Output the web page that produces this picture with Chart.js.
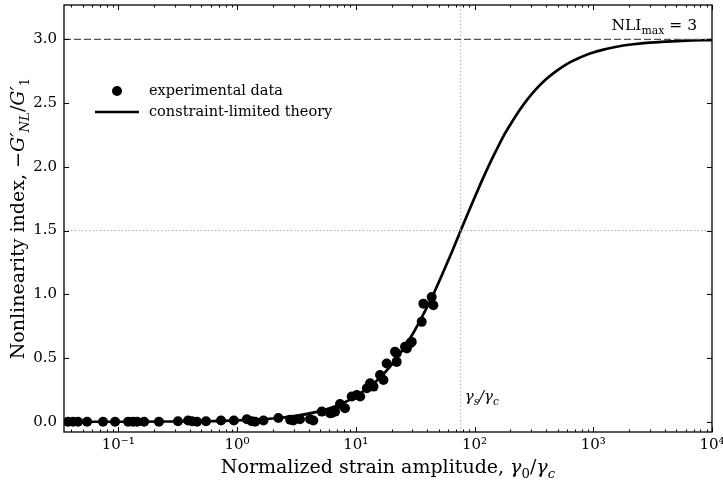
<!DOCTYPE html>
<html>
<head>
<meta charset="utf-8">
<script src="https://cdn.jsdelivr.net/npm/chart.js@4.4.0/dist/chart.umd.min.js"></script>
<style>
  html, body { margin: 0; padding: 0; background: #fff; }
</style>
</head>
<body>
<canvas id="chart" width="723" height="484"></canvas>
<script>
// experimental points (gamma0/gammac, NLI)
const expX = [0.0377, 0.0416, 0.0458, 0.0546, 0.0744, 0.094, 0.121, 0.133, 0.144, 0.165,
  0.220, 0.318, 0.387, 0.418, 0.460, 0.548, 0.733, 0.94, 1.21, 1.33,
  1.42, 1.67, 2.23, 2.80, 2.98, 3.39, 4.12, 4.39, 5.17, 6.07,
  6.28, 6.69, 7.37, 8.11, 9.25, 10.2, 10.9, 12.4, 13.2, 14.1,
  16.0, 17.1, 18.2, 21.4, 22.1, 22.1, 26.0, 26.9, 28.6, 29.6,
  35.9, 37.1, 43.6, 45.0];
const expY = [0.0, 0.0, 0.0, 0.0, 0.0, 0.0, 0.0, 0.0, 0.0, 0.0,
  0.0, 0.005, 0.01, 0.005, 0.0, 0.005, 0.01, 0.01, 0.02, 0.005,
  0.0, 0.01, 0.03, 0.016, 0.01, 0.02, 0.02, 0.01, 0.08, 0.068,
  0.07, 0.08, 0.14, 0.107, 0.198, 0.21, 0.198, 0.263, 0.302, 0.276,
  0.367, 0.328, 0.458, 0.549, 0.47, 0.536, 0.588, 0.575, 0.614, 0.627,
  0.784, 0.927, 0.979, 0.914];

// theory curve
const theoryX = [0.035, 0.1, 0.3, 0.5, 1, 2, 3, 5, 7, 10, 15, 20, 30, 40, 45, 55, 65, 76.5,
  90, 100, 115, 130, 150, 175, 200, 240, 280, 330, 400, 460, 550, 640, 750, 880,
  1000, 1200, 1400, 1700, 2000, 2500, 3000, 4000, 6000, 10000];
const theoryY = [0.0003, 0.0005, 0.0022, 0.0043, 0.011, 0.026, 0.044, 0.084, 0.128, 0.199,
  0.322, 0.446, 0.685, 0.903, 1.0, 1.183, 1.34, 1.5,
  1.657, 1.758, 1.888, 1.997, 2.117, 2.24, 2.331, 2.446, 2.532, 2.61, 2.687, 2.734,
  2.785, 2.822, 2.853, 2.88, 2.898, 2.918, 2.933, 2.948, 2.958, 2.968, 2.975, 2.982,
  2.99, 2.995];

const nliMax = 3.0;
const nliHalf = 1.5;
const gammaS = 76.5;

const xMin = 0.0349, xMax = 10000;
const yMin = -0.08, yMax = 3.27;

const xTickVals = [0.1, 1, 10, 100, 1000, 10000];
const xTickLabels = ['10⁻¹', '10⁰', '10¹', '10²', '10³', '10⁴'];
const yTickVals = [0, 0.5, 1.0, 1.5, 2.0, 2.5, 3.0];

const SERIF = "'DejaVu Serif', serif";

const toPts = (xs, ys) => xs.map((x, i) => ({x: x, y: ys[i]}));

// pieces: [text, style], style = 'n' | 'i' | 'sub' | 'isub'
function runFont(s, size) {
  let fs = size, it = '';
  if (s === 'i' || s === 'isub') it = 'italic ';
  if (s === 'sub' || s === 'isub') fs = size * 0.7;
  return it + fs + 'px ' + SERIF;
}
function drawRuns(ctx, runs, x, y, size) {
  let cx = x;
  runs.forEach(r => {
    const dy = (r[1] === 'sub' || r[1] === 'isub') ? size * 0.25 : 0;
    ctx.font = runFont(r[1], size);
    ctx.fillText(r[0], cx, y + dy);
    cx += ctx.measureText(r[0]).width;
  });
}
function runsWidth(ctx, runs, size) {
  let w = 0;
  runs.forEach(r => {
    ctx.font = runFont(r[1], size);
    w += ctx.measureText(r[0]).width;
  });
  return w;
}

const decorPlugin = {
  id: 'decor',
  afterDraw(chart) {
    const ctx = chart.ctx;
    const a = chart.chartArea;
    const xs = chart.scales.x, ys = chart.scales.y;
    ctx.save();
    ctx.strokeStyle = '#000';
    ctx.fillStyle = '#000';

    // frame
    ctx.lineWidth = 1.3;
    ctx.strokeRect(a.left, a.top, a.right - a.left, a.bottom - a.top);

    // inward ticks on all four sides
    ctx.lineWidth = 1;
    ctx.beginPath();
    yTickVals.forEach(v => {
      const p = Math.round(ys.getPixelForValue(v)) + 0.5;
      ctx.moveTo(a.left, p); ctx.lineTo(a.left + 5, p);
      ctx.moveTo(a.right, p); ctx.lineTo(a.right - 5, p);
    });
    xTickVals.forEach(v => {
      const p = Math.round(xs.getPixelForValue(v)) + 0.5;
      ctx.moveTo(p, a.bottom); ctx.lineTo(p, a.bottom - 5);
      ctx.moveTo(p, a.top); ctx.lineTo(p, a.top + 5);
    });
    for (let d = -2; d <= 3; d++) {
      for (let k = 2; k <= 9; k++) {
        const v = k * Math.pow(10, d);
        if (v < xMin || v > xMax) continue;
        const p = Math.round(xs.getPixelForValue(v)) + 0.5;
        ctx.moveTo(p, a.bottom); ctx.lineTo(p, a.bottom - 2.5);
        ctx.moveTo(p, a.top); ctx.lineTo(p, a.top + 2.5);
      }
    }
    ctx.stroke();

    // axis titles
    ctx.textBaseline = 'alphabetic';
    const xt = [['Normalized strain amplitude, ', 'n'], ['γ', 'i'], ['0', 'sub'], ['/', 'n'], ['γ', 'i'], ['c', 'isub']];
    const xw = runsWidth(ctx, xt, 19);
    drawRuns(ctx, xt, (a.left + a.right) / 2 - xw / 2, 473, 19);

    const yt = [['Nonlinearity index, −', 'n'], ['G′', 'i'], ['NL', 'isub'], ['/', 'n'], ['G′', 'i'], ['1', 'sub']];
    const yw = runsWidth(ctx, yt, 19);
    ctx.save();
    ctx.translate(24, (a.top + a.bottom) / 2);
    ctx.rotate(-Math.PI / 2);
    drawRuns(ctx, yt, -yw / 2, 0, 19);
    ctx.restore();

    // annotations
    const nl = [['NLI', 'n'], ['max', 'sub'], [' = 3', 'n']];
    const nw = runsWidth(ctx, nl, 15.5);
    drawRuns(ctx, nl, a.right - 15 - nw, 30, 15.5);
    drawRuns(ctx, [['γ', 'i'], ['s', 'isub'], ['/', 'i'], ['γ', 'i'], ['c', 'isub']],
      xs.getPixelForValue(gammaS) + 4, 401, 15);

    // legend
    ctx.beginPath();
    ctx.arc(117, 91, 5, 0, Math.PI * 2);
    ctx.fill();
    ctx.lineWidth = 2.7;
    ctx.beginPath();
    ctx.moveTo(95, 112); ctx.lineTo(139, 112);
    ctx.stroke();
    ctx.font = '14.5px ' + SERIF;
    ctx.textBaseline = 'middle';
    ctx.fillText('experimental data', 149, 91);
    ctx.fillText('constraint-limited theory', 149, 112);
    ctx.restore();
  }
};

new Chart(document.getElementById('chart').getContext('2d'), {
  type: 'scatter',
  data: {
    datasets: [
      {
        label: 'NLI max',
        type: 'line',
        data: toPts([xMin, xMax], [nliMax, nliMax]),
        borderColor: '#555',
        borderWidth: 1.3,
        borderDash: [7, 3],
        pointRadius: 0
      },
      {
        label: 'half',
        type: 'line',
        data: toPts([xMin, xMax], [nliHalf, nliHalf]),
        borderColor: '#999',
        borderWidth: 1,
        borderDash: [1.2, 2.4],
        pointRadius: 0
      },
      {
        label: 'gamma s',
        type: 'line',
        data: toPts([gammaS, gammaS], [yMin, yMax]),
        borderColor: '#999',
        borderWidth: 1,
        borderDash: [1.2, 2.4],
        pointRadius: 0
      },
      {
        label: 'experimental data',
        data: toPts(expX, expY),
        backgroundColor: '#000',
        borderColor: '#000',
        pointRadius: 5,
        pointBorderWidth: 0
      },
      {
        label: 'constraint-limited theory',
        type: 'line',
        data: toPts(theoryX, theoryY),
        borderColor: '#000',
        borderWidth: 2.7,
        pointRadius: 0,
        cubicInterpolationMode: 'monotone'
      }
    ]
  },
  options: {
    responsive: false,
    animation: false,
    layout: { padding: { left: 0, right: 11, top: 3, bottom: 0 } },
    plugins: {
      legend: { display: false },
      tooltip: { enabled: false }
    },
    scales: {
      x: {
        type: 'logarithmic',
        min: xMin,
        max: xMax,
        grid: { display: false, drawTicks: false },
        border: { display: false },
        afterBuildTicks: s => { s.ticks = xTickVals.map(v => ({value: v})); },
        afterFit: s => { s.height = 52; s.paddingLeft = 0; s.paddingRight = 0; },
        ticks: {
          padding: 4,
          maxRotation: 0,
          autoSkip: false,
          color: '#000',
          font: { family: SERIF, size: 15 },
          callback: v => xTickLabels[xTickVals.indexOf(v)] || ''
        }
      },
      y: {
        min: yMin,
        max: yMax,
        grid: { display: false, drawTicks: false },
        border: { display: false },
        afterBuildTicks: s => { s.ticks = yTickVals.map(v => ({value: v})); },
        afterFit: s => { s.width = 64; s.paddingTop = 0; s.paddingBottom = 0; },
        ticks: {
          padding: 7,
          color: '#000',
          font: { family: SERIF, size: 15 },
          callback: v => Number(v).toFixed(1)
        }
      }
    }
  },
  plugins: [decorPlugin]
});
</script>
</body>
</html>
